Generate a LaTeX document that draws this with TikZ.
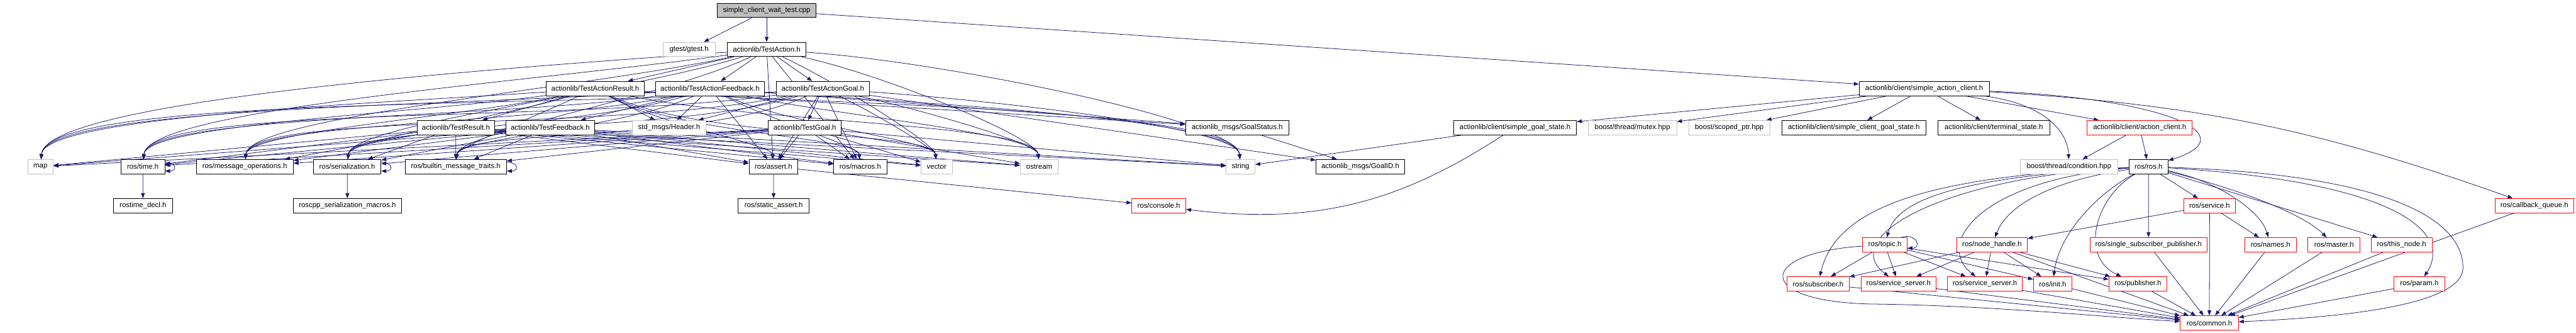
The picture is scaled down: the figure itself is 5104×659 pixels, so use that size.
\documentclass[tikz,border=0pt]{standalone}
\usepackage{fontspec}
\setmainfont{Liberation Sans}
\usetikzlibrary{arrows.meta,backgrounds,calc}
\definecolor{edgec}{HTML}{191970}
\definecolor{grayb}{HTML}{BFBFBF}
\definecolor{redb}{HTML}{FF0000}
\definecolor{topfill}{HTML}{BFBFBF}
\newcommand\nd[6]{\node[box,#6,minimum width={(#3-#2)*0.02cm}] (#1) at ({(#2+#3)/2},{-(20.5+77.35*#4)}) {#5};}
\newcommand\selfloop[1]{\draw[edg] ([shift={(0,-6)}]#1.north east) .. controls +(24,0) and +(24,0) .. ([shift={(0,6)}]#1.south east);}
\begin{document}
\begin{tikzpicture}[x=0.02cm,y=0.02cm,
  box/.style={draw,fill=white,line width=0.6pt,inner sep=0pt,minimum height=0.568cm,font=\fontsize{8.1pt}{9.7pt}\selectfont},
  nb/.style={draw=black},
  ng/.style={draw=grayb},
  nr/.style={draw=redb},
  ntop/.style={draw=black,fill=topfill},
  edg/.style={draw=edgec,line width=0.55pt,-{Triangle[length=0.2cm,width=0.15cm]}},
  lft/.style={out=#1,in=85,out looseness=0.8,in looseness=0.22},
  rgt/.style={out=#1,in=95,out looseness=0.8,in looseness=0.22}]
\useasboundingbox (0,0) rectangle (5104,-659);
% row 0-1
\nd{top}{1421}{1617}{0}{simple\_client\_wait\_test.cpp}{ntop}
\nd{gtest}{1313.5}{1417}{1}{gtest/gtest.h}{ng}
\nd{TA}{1441}{1597}{1}{actionlib/TestAction.h}{nb}
% row 2
\nd{TAR}{1082.6}{1276.2}{2}{actionlib/TestActionResult.h}{nb}
\nd{TAF}{1298.7}{1514.8}{2}{actionlib/TestActionFeedback.h}{nb}
\nd{TAG}{1538.4}{1722}{2}{actionlib/TestActionGoal.h}{nb}
\nd{SAC}{3683.6}{3941.4}{2}{actionlib/client/simple\_action\_client.h}{nb}
% row 3
\nd{TR}{826.6}{980}{3}{actionlib/TestResult.h}{nb}
\nd{TF}{1002.5}{1178}{3}{actionlib/TestFeedback.h}{nb}
\nd{Hdr}{1253}{1398.5}{3}{std\_msgs/Header.h}{ng}
\nd{TG}{1522.5}{1666.7}{3}{actionlib/TestGoal.h}{nb}
\nd{GS}{2349}{2553.5}{3}{actionlib\_msgs/GoalStatus.h}{nb}
\nd{SGS}{2879.7}{3123.7}{3}{actionlib/client/simple\_goal\_state.h}{nb}
\nd{mutex}{3146.8}{3322}{3}{boost/thread/mutex.hpp}{ng}
\nd{scoped}{3346.4}{3506.4}{3}{boost/scoped\_ptr.hpp}{ng}
\nd{SCGS}{3530.5}{3815.8}{3}{actionlib/client/simple\_client\_goal\_state.h}{nb}
\nd{term}{3839.9}{4061}{3}{actionlib/client/terminal\_state.h}{nb}
\nd{AC}{4135.5}{4343.7}{3}{actionlib/client/action\_client.h}{nr}
% row 4
\nd{map}{54.9}{105.3}{4}{map}{ng}
\nd{time}{239.7}{326.4}{4}{ros/time.h}{nb}
\nd{msgops}{388.9}{580.9}{4}{ros/message\_operations.h}{nb}
\nd{ser}{621}{754.8}{4}{ros/serialization.h}{nb}
\nd{bmt}{802.5}{1003.6}{4}{ros/builtin\_message\_traits.h}{nb}
\nd{assert}{1484}{1581}{4}{ros/assert.h}{nb}
\nd{macros}{1652}{1757}{4}{ros/macros.h}{nb}
\nd{vector}{1825}{1886.5}{4}{vector}{ng}
\nd{ostream}{2021.4}{2097}{4}{ostream}{ng}
\nd{string}{2429.5}{2486.6}{4}{string}{ng}
\nd{GoalID}{2607.6}{2783}{4}{actionlib\_msgs/GoalID.h}{nb}
\nd{cond}{4002.8}{4196}{4}{boost/thread/condition.hpp}{ng}
\nd{ros}{4218.4}{4295.7}{4}{ros/ros.h}{nb}
% row 5
\nd{rtd}{224.9}{341.7}{5}{rostime\_decl.h}{nb}
\nd{rsm}{580.9}{795.9}{5}{roscpp\_serialization\_macros.h}{nb}
\nd{sa}{1462.7}{1603}{5}{ros/static\_assert.h}{nb}
\nd{console}{2242.5}{2349.5}{5}{ros/console.h}{nr}
\nd{service}{4326.8}{4429.2}{5}{ros/service.h}{nr}
\nd{cbq}{4943.3}{5099.7}{5}{ros/callback\_queue.h}{nr}
% row 6
\nd{topic}{3690.7}{3778.5}{6}{ros/topic.h}{nr}
\nd{nh}{3877}{4017}{6}{ros/node\_handle.h}{nr}
\nd{ssp}{4141}{4373}{6}{ros/single\_subscriber\_publisher.h}{nr}
\nd{names}{4447.7}{4549.6}{6}{ros/names.h}{nr}
\nd{master}{4573}{4675.9}{6}{ros/master.h}{nr}
\nd{thisnode}{4698.3}{4818.6}{6}{ros/this\_node.h}{nr}
% row 7
\nd{sub}{3541}{3663.8}{7}{ros/subscriber.h}{nr}
\nd{ssA}{3687.4}{3836}{7}{ros/service\_server.h}{nr}
\nd{ssB}{3858.6}{4006.7}{7}{ros/service\_server.h}{nr}
\nd{init}{4029}{4105.4}{7}{ros/init.h}{nr}
\nd{pub}{4178.4}{4293.6}{7}{ros/publisher.h}{nr}
\nd{param}{4743.5}{4843.7}{7}{ros/param.h}{nr}
% row 8
\nd{common}{4319.7}{4435.2}{8}{ros/common.h}{nr}

\begin{pgfonlayer}{background}
\draw[edg] (top) -- (gtest);
\draw[edg] (top) -- (TA);
\draw[edg] (top) -- (SAC);
\foreach \t in {TAR,TAF,TAG} {\draw[edg] (TA) -- (\t);}
\foreach \s/\a/\b in {TAR/TR/GS,TAF/TF/GS,TAG/TG/GoalID} {
  \draw[edg] (\s) -- (\a);
  \draw[edg] (\s) -- (\b);
  \draw[edg] (\s) -- (Hdr);}
% message headers -> common ros headers
\foreach \s in {TA,TAR,TAF,TAG} {
  \draw[edg] (\s) to[lft=184] (map);
  \draw[edg] (\s) to[lft=188] (time);
  \draw[edg] (\s) to[lft=192] (msgops);
  \draw[edg] (\s) to[lft=197] (ser);
  \draw[edg] (\s) to[lft=205] (bmt);
  \draw[edg] (\s) to[rgt=-25] (vector);
  \draw[edg] (\s) to[rgt=-12] (ostream);
  \draw[edg] (\s) to[rgt=-4] (string);}
\foreach \s in {TA,TAF,TAG} {\draw[edg] (\s) -- (assert);}
\draw[edg] (TAR) to[rgt=-30] (assert);
\foreach \s in {TA,TAG} {\draw[edg] (\s) -- (macros);}
\foreach \s in {TAR,TAF} {\draw[edg] (\s) to[rgt=-28] (macros);}
\foreach \s in {TR,TF,TG} {
  \foreach \t in {map,time,msgops,ser,bmt,assert,macros,vector,ostream,string} {\draw[edg] (\s) -- (\t);}}
\draw[edg] (GS) -- (GoalID);
\draw[edg] (time) -- (rtd);
\draw[edg] (ser) -- (rsm);
\draw[edg] (assert) -- (sa);
\draw[edg] (assert) -- (console);
\selfloop{time}
\selfloop{ser}
\selfloop{bmt}
\draw[edg] (SGS) -- (string);
\draw[edg] (SGS) to[bend left=20] (console);
\foreach \t in {SGS,mutex,scoped,SCGS,term,AC} {\draw[edg] (SAC) -- (\t);}
\draw[edg] (SAC) .. controls (4050,-205) and (4097,-260) .. (cond);
\draw[edg] (SAC) .. controls (4300,-195) and (4450,-270) .. (ros);
\draw[edg] (SAC) to[bend left=8] (cbq);
\draw[edg] (AC) -- (cond);
\draw[edg] (AC) -- (ros);
% ros.h
\draw[edg] (ros) .. controls (3850,-348) and (3640,-400) .. (sub);
\draw[edg] (ros) .. controls (3850,-350) and (3640,-470) .. (ssA);
\draw[edg] (ros) .. controls (3900,-350) and (3760,-390) .. (topic);
\draw[edg] (ros) .. controls (3930,-355) and (3830,-480) .. (ssB);
\draw[edg] (ros) .. controls (4080,-355) and (3980,-400) .. (nh);
\draw[edg] (ros) .. controls (4160,-380) and (4080,-460) .. (init);
\draw[edg] (ros) .. controls (4150,-390) and (4120,-510) .. (pub);
\draw[edg] (ros) -- (ssp);
\draw[edg] (ros) -- (service);
\draw[edg] (ros) .. controls (4400,-360) and (4480,-420) .. (names);
\draw[edg] (ros) .. controls (4420,-370) and (4560,-420) .. (master);
\draw[edg] (ros) -- (thisnode);
\draw[edg] (ros) .. controls (4750,-360) and (4860,-460) .. (param);
\draw[edg] (ros) .. controls (4720,-345) and (4880,-430) .. (4880,-530) .. controls (4880,-610) and (4600,-630) .. (common);
% service.h
\draw[edg] (service) -- (nh);
\draw[edg] (service) -- (names);
\draw[edg] (service) -- (common);
% topic.h
\draw[edg] ([shift={(-12,0)}]topic.north east) .. controls +(30,10) and +(30,0) .. ([shift={(0,8)}]topic.south east);
\foreach \t in {sub,ssA,ssB,init,pub} {\draw[edg] (topic) -- (\t);}
\draw[edg] (topic) .. controls (3480,-500) and (3470,-600) .. (3720,-602) .. controls (3950,-605) and (4200,-630) .. (common);
% node_handle.h
\foreach \t in {sub,ssA,ssB,init,pub,common} {\draw[edg] (nh) -- (\t);}
% to common
\foreach \s in {ssp,names,master,thisnode,param,cbq,sub,ssA,ssB,init,pub} {\draw[edg] (\s) -- (common);}
\end{pgfonlayer}
\end{tikzpicture}
\end{document}
